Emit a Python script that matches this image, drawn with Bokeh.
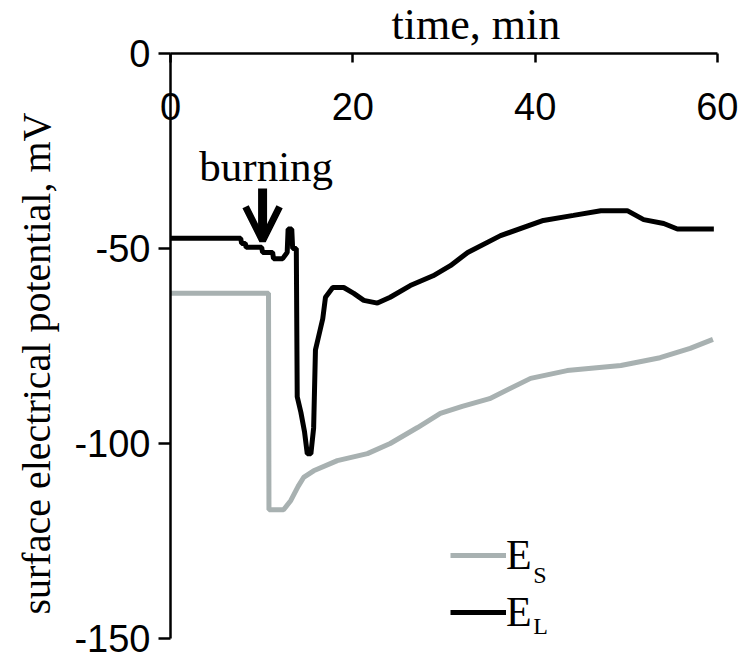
import math
from bokeh.plotting import figure
from bokeh.models import Range1d, FixedTicker, Legend, LegendItem, Label, Arrow, OpenHead
from bokeh.embed import file_html
from bokeh.resources import INLINE

# ---- data ----
TIME_ES = [0, 10.75, 10.8, 12.4, 13.2, 14.0, 14.6, 15.7, 18.3, 21.6, 24.1, 27.1,
           29.6, 32.0, 35.0, 39.5, 43.5, 49.4, 53.7, 57.0, 59.5]
E_S = [-61.5, -61.5, -117, -117, -114.6, -111, -108.7, -107, -104.4, -102.6, -100,
       -95.9, -92.3, -90.5, -88.5, -83.3, -81.3, -80, -78, -75.6, -73.3]

TIME_EL = [0, 7.7, 7.8, 8.2, 8.3, 10.0, 10.1, 11.2, 11.3, 12.3, 12.8, 12.9, 13.3,
           13.4, 13.8, 13.9, 14.3, 14.7, 15.0, 15.4, 15.7, 15.9, 16.2, 16.7, 17.0,
           17.8, 19.0, 20.1, 21.2, 22.7, 24.1, 26.3, 28.8, 30.7, 32.6, 36.2, 40.9,
           44.2, 47.2, 50.1, 51.9, 54.1, 55.6, 59.6]
E_L = [-47.4, -47.4, -48.7, -48.7, -49.7, -49.7, -51, -51, -52.6, -52.6, -51, -45,
       -45, -50, -50, -88, -92, -97, -102.6, -102.6, -96, -76, -73, -68, -62.5,
       -60, -60, -61.5, -63.3, -64, -62.5, -59.5, -57, -54.4, -51, -46.7, -42.8,
       -41.5, -40.3, -40.3, -42.6, -43.6, -45, -45]

X_TICKS = [0, 20, 40, 60]
X_TICK_LABELS = ["0", "20", "40", "60"]
Y_TICKS = [-150, -100, -50, 0]
Y_TICK_LABELS = ["-150", "-100", "-50", "0"]
EVENT_TIME = 10.1
EVENT_LABEL = "burning"
X_TITLE = "time, min"
Y_TITLE = "surface electrical potential, mV"

GRAY = "#a8b1b1"
SERIF = "Liberation Serif"
SANS = "Liberation Sans"

# ---- layout: the frame fills the canvas; axes are fixed at t=0 / E=0 ----
W, H = 738, 660
AX_LEFT, AX_RIGHT, AX_TOP, AX_BOTTOM = 170, 717, 53, 638
PX_PER_MIN = (AX_RIGHT - AX_LEFT) / 60.0
PX_PER_MV = (AX_BOTTOM - AX_TOP) / 150.0

p = figure(width=W, height=H,
           x_range=Range1d(-AX_LEFT / PX_PER_MIN, 60 + (W - AX_RIGHT) / PX_PER_MIN),
           y_range=Range1d(-150 - (H - AX_BOTTOM) / PX_PER_MV, AX_TOP / PX_PER_MV),
           x_axis_location="above", output_backend="svg", toolbar_location=None,
           min_border=0, min_border_left=0, min_border_right=0, min_border_top=0,
           min_border_bottom=0)
p.outline_line_color = None
p.grid.visible = False

# top x axis: ticks point down, labels placed below the line (negative standoff)
xa = p.xaxis[0]
xa.fixed_location = 0
xa.bounds = (0, 60)
xa.ticker = FixedTicker(ticks=X_TICKS)
xa.major_label_overrides = dict(zip(X_TICKS, X_TICK_LABELS))
xa.major_label_text_font = SANS
xa.major_label_text_font_size = "38px"
xa.major_label_text_color = "black"
xa.major_label_standoff = -66
xa.major_tick_in = 9
xa.major_tick_out = 0
xa.minor_tick_in = 0
xa.minor_tick_out = 0
xa.axis_line_width = 2.5
xa.major_tick_line_width = 2.5

ya = p.yaxis[0]
ya.fixed_location = 0
ya.bounds = (-150, 0)
ya.ticker = FixedTicker(ticks=Y_TICKS)
ya.major_label_overrides = dict(zip(Y_TICKS, Y_TICK_LABELS))
ya.major_label_text_font = SANS
ya.major_label_text_font_size = "38px"
ya.major_label_text_color = "black"
ya.major_label_standoff = 8
ya.major_tick_in = 0
ya.major_tick_out = 12
ya.minor_tick_in = 0
ya.minor_tick_out = 0
ya.axis_line_width = 2.5
ya.major_tick_line_width = 2.5

# axis titles
p.add_layout(Label(x=33.5, y=0, y_offset=29, text=X_TITLE,
                   text_font=SERIF, text_font_size="44px", text_color="black",
                   text_align="center", text_baseline="middle"))
p.add_layout(Label(x=-14.7, y=-79.5, text=Y_TITLE, angle=math.pi / 2,
                   text_font=SERIF, text_font_size="40px", text_color="black",
                   text_align="center", text_baseline="middle"))

rs = p.line(TIME_ES, E_S, line_color=GRAY, line_width=5)
rl = p.line(TIME_EL, E_L, line_color="black", line_width=5)

# event annotation
p.add_layout(Arrow(end=OpenHead(size=34, line_width=7, line_color="black"),
                   x_start=EVENT_TIME, y_start=-34.6, x_end=EVENT_TIME, y_end=-48.0,
                   line_width=9, line_color="black"))
p.add_layout(Label(x=EVENT_TIME + 0.4, y=-29.0, text=EVENT_LABEL, text_font=SERIF,
                   text_font_size="43px", text_align="center",
                   text_baseline="middle", text_color="black"))

# legend
for r, loc, sub, sub_y in [(rs, (450, 81), "S", -133.6), (rl, (450, 24), "L", -146.8)]:
    lg = Legend(items=[LegendItem(label="E", renderers=[r])], location=loc,
                glyph_width=56, glyph_height=20, label_standoff=0, padding=0,
                margin=0, spacing=0, border_line_alpha=0, background_fill_alpha=0,
                label_text_font=SERIF, label_text_font_size="42px",
                label_text_color="black", label_height=20)
    p.add_layout(lg)
    p.add_layout(Label(x=39.8, y=sub_y, text=sub, text_font=SERIF,
                       text_font_size="24px", text_baseline="alphabetic",
                       text_color="black"))

open("out.html", "w").write(file_html(p, INLINE))
